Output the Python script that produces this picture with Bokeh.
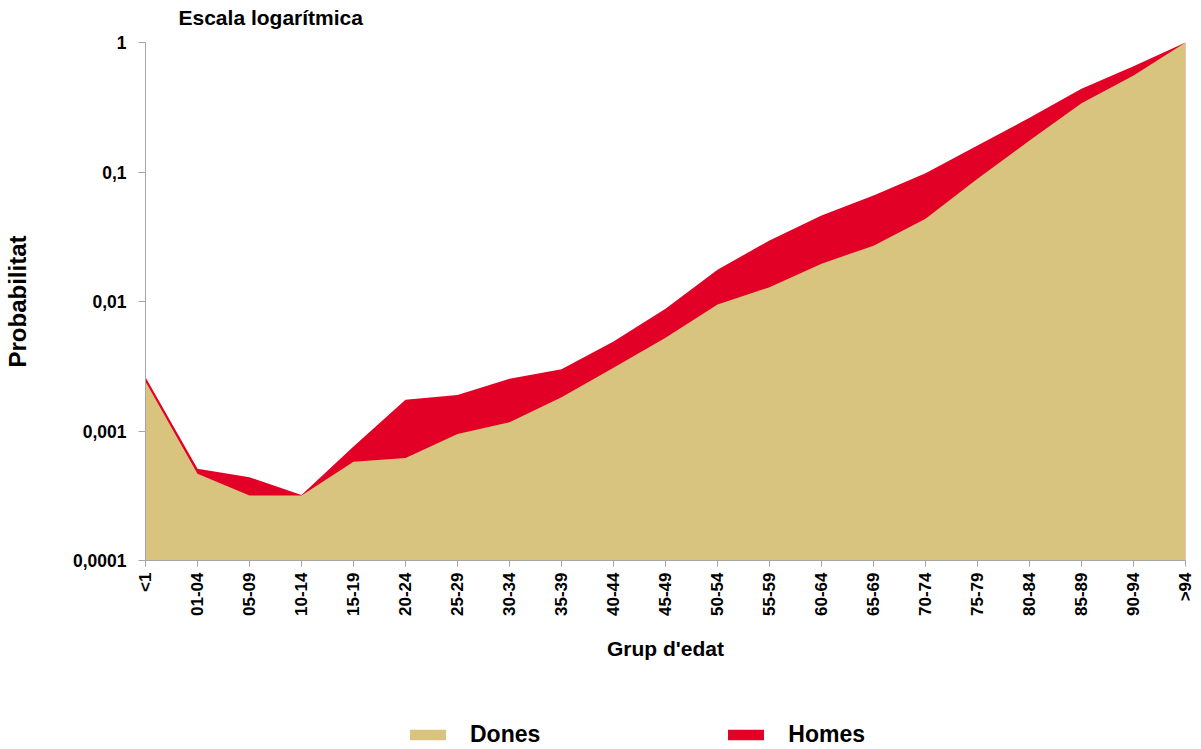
import math
from bokeh.plotting import figure
from bokeh.layouts import column
from bokeh.models import (FixedTicker, CustomJSTickFormatter, Legend, LegendItem,
                          ColumnDataSource, Range1d)
from bokeh.core.properties import value
from bokeh.embed import file_html
from bokeh.resources import INLINE

categories = ["<1", "01-04", "05-09", "10-14", "15-19", "20-24", "25-29", "30-34",
              "35-39", "40-44", "45-49", "50-54", "55-59", "60-64", "65-69", "70-74",
              "75-79", "80-84", "85-89", "90-94", ">94"]
homes = [0.0026, 0.00051, 0.00044, 0.00032, 0.00076, 0.00174, 0.0019, 0.00253,
         0.0030, 0.0049, 0.0088, 0.0176, 0.0296, 0.0461, 0.0659, 0.098, 0.160,
         0.262, 0.439, 0.656, 1.0]
dones = [0.00241, 0.000467, 0.000318, 0.000318, 0.00058, 0.00062, 0.00095, 0.00117,
         0.00182, 0.00308, 0.00525, 0.0095, 0.0129, 0.0196, 0.027, 0.0435, 0.0886,
         0.175, 0.34, 0.556, 1.0]
y_ticks = [0.0001, 0.001, 0.01, 0.1, 1]
series_names = ["Dones", "Homes"]
title_text = "Escala logarítmica"

FONT = "Liberation Sans"
C_DONES = "#D8C37F"
C_HOMES = "#E20026"
AXIS_C = "#A6A6A6"

FRAME_L, FRAME_R = 145, 1185   # page pixels of the plotting frame

def strip(height):
    f = figure(width=1201, height=height,
               x_range=Range1d(FRAME_L, FRAME_R), y_range=Range1d(height, 0),
               output_backend="svg", toolbar_location=None, title=None,
               min_border_left=FRAME_L, min_border_right=1201 - FRAME_R,
               min_border_top=0, min_border_bottom=0)
    f.axis.visible = False
    f.grid.visible = False
    f.outline_line_color = None
    return f

# ---- title strip
top = strip(30)
top.text(x=[178], y=[17], text=[title_text], text_font=value(FONT),
         text_font_size="21px", text_font_style="bold", text_color="black",
         text_baseline="alphabetic", text_align="left")

# ---- main chart
xs = list(range(len(categories)))
src = ColumnDataSource(dict(x=xs, homes=homes, dones=dones,
                            base=[y_ticks[0]] * len(xs)))

p = figure(width=1201, height=670, y_axis_type="log", title=None,
           x_range=Range1d(0, len(categories) - 1),
           y_range=Range1d(y_ticks[0], y_ticks[-1]),
           output_backend="svg", toolbar_location=None,
           min_border_left=FRAME_L, min_border_right=1201 - FRAME_R,
           min_border_top=12, min_border_bottom=140)

r_h = p.varea(x="x", y1="base", y2="homes", source=src, fill_color=C_HOMES)
r_d = p.varea(x="x", y1="base", y2="dones", source=src, fill_color=C_DONES)

p.xgrid.visible = False
p.ygrid.visible = False
p.outline_line_color = None

xa = p.xaxis[0]
xa.ticker = FixedTicker(ticks=xs)
xa.major_label_overrides = {i: c for i, c in enumerate(categories)}
xa.major_label_orientation = math.pi / 2
xa.major_label_text_font = FONT
xa.major_label_text_font_size = "17px"
xa.major_label_text_font_style = "bold"
xa.major_label_text_color = "black"
xa.major_label_standoff = 6
xa.major_tick_out = 6
xa.major_tick_in = 0
xa.minor_tick_line_color = None
xa.axis_line_color = AXIS_C
xa.major_tick_line_color = AXIS_C
xa.axis_label = "Grup d'edat"
xa.axis_label_text_font = FONT
xa.axis_label_text_font_size = "21px"
xa.axis_label_text_font_style = "bold"
xa.axis_label_text_color = "black"
xa.axis_label_standoff = 18

ya = p.yaxis[0]
ya.ticker = FixedTicker(ticks=y_ticks)
ya.formatter = CustomJSTickFormatter(code="return tick.toString().replace('.', ',');")
ya.major_label_text_font = FONT
ya.major_label_text_font_size = "17.5px"
ya.major_label_text_font_style = "bold"
ya.major_label_text_color = "black"
ya.major_label_standoff = 12
ya.major_tick_out = 7
ya.major_tick_in = 0
ya.minor_tick_line_color = None
ya.axis_line_color = AXIS_C
ya.major_tick_line_color = AXIS_C
ya.axis_label = "Probabilitat"
ya.axis_label_text_font = FONT
ya.axis_label_text_font_size = "24px"
ya.axis_label_text_font_style = "bold"
ya.axis_label_text_color = "black"
ya.axis_label_standoff = 39

# ---- legend strip
lg = strip(49)
dummy = ColumnDataSource(dict(x=[-10, -9], y1=[0, 0], y2=[0, 0]))
l_d = lg.varea(x="x", y1="y1", y2="y2", source=dummy, fill_color=C_DONES)
l_h = lg.varea(x="x", y1="y1", y2="y2", source=dummy, fill_color=C_HOMES)

legend = Legend(items=[LegendItem(label=series_names[0], renderers=[l_d]),
                       LegendItem(label=series_names[1], renderers=[l_h])],
                orientation="horizontal", location=(405 - FRAME_L, 1))
legend.glyph_width = 45
legend.glyph_height = 13
legend.label_standoff = 20
legend.spacing = 183
legend.padding = 0
legend.margin = 0
legend.border_line_color = None
legend.background_fill_alpha = 0
legend.label_text_font = FONT
legend.label_text_font_size = "23px"
legend.label_text_font_style = "bold"
legend.label_text_color = "black"
lg.add_layout(legend, "center")

layout = column(top, p, lg, spacing=0)
open("out.html", "w").write(file_html(layout, INLINE))
